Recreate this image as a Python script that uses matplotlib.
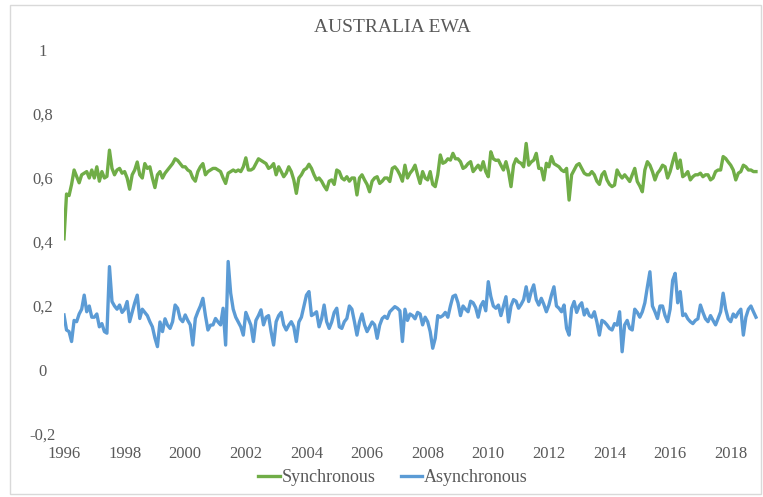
#!/usr/bin/env python3
"""Synchronous vs asynchronous correlation, Australia EWA."""

import numpy as np
import matplotlib

matplotlib.use("Agg")
import matplotlib.pyplot as plt
from matplotlib.patches import Rectangle
from matplotlib.ticker import FuncFormatter

TITLE = "AUSTRALIA EWA"
START_YEAR = 1996
X_TICKS = list(range(1996, 2019, 2))
Y_TICKS = [-0.2, 0, 0.2, 0.4, 0.6, 0.8, 1]

# monthly readings, Jan 1996 .. Nov 2018
SYNCHRONOUS = [
    0.41, 0.55, 0.545, 0.58, 0.625, 0.605, 0.585, 0.61, 0.615, 0.62, 0.60, 0.625,      # 1996
    0.60, 0.635, 0.59, 0.62, 0.60, 0.605, 0.687, 0.63, 0.61, 0.625, 0.63, 0.615,       # 1997
    0.62, 0.60, 0.565, 0.61, 0.625, 0.65, 0.61, 0.60, 0.645, 0.63, 0.635, 0.60,        # 1998
    0.57, 0.61, 0.62, 0.60, 0.615, 0.625, 0.635, 0.645, 0.66, 0.655, 0.645, 0.635,     # 1999
    0.635, 0.625, 0.62, 0.60, 0.59, 0.62, 0.635, 0.645, 0.61, 0.62, 0.625, 0.63,       # 2000
    0.63, 0.625, 0.62, 0.60, 0.583, 0.615, 0.62, 0.625, 0.62, 0.625, 0.62, 0.635,      # 2001
    0.663, 0.625, 0.625, 0.63, 0.645, 0.66, 0.655, 0.65, 0.645, 0.63, 0.635, 0.645,    # 2002
    0.61, 0.635, 0.62, 0.604, 0.615, 0.635, 0.62, 0.594, 0.552, 0.60, 0.61, 0.625,     # 2003
    0.63, 0.643, 0.63, 0.61, 0.594, 0.60, 0.59, 0.575, 0.563, 0.59, 0.594, 0.58,       # 2004
    0.625, 0.62, 0.60, 0.594, 0.604, 0.59, 0.60, 0.60, 0.547, 0.60, 0.61, 0.594,       # 2005
    0.58, 0.557, 0.59, 0.60, 0.604, 0.583, 0.59, 0.60, 0.60, 0.589, 0.63, 0.635,       # 2006
    0.625, 0.61, 0.59, 0.64, 0.60, 0.615, 0.625, 0.64, 0.61, 0.583, 0.62, 0.60,        # 2007
    0.594, 0.62, 0.58, 0.573, 0.61, 0.672, 0.646, 0.65, 0.66, 0.656, 0.677, 0.66,      # 2008
    0.66, 0.651, 0.63, 0.635, 0.645, 0.651, 0.62, 0.63, 0.64, 0.625, 0.651, 0.62,      # 2009
    0.604, 0.682, 0.66, 0.655, 0.656, 0.64, 0.625, 0.651, 0.62, 0.573, 0.64, 0.66,     # 2010
    0.65, 0.646, 0.635, 0.708, 0.64, 0.65, 0.656, 0.677, 0.63, 0.63, 0.594, 0.646,     # 2011
    0.635, 0.667, 0.645, 0.64, 0.635, 0.625, 0.62, 0.63, 0.531, 0.61, 0.625, 0.64,     # 2012
    0.645, 0.63, 0.615, 0.61, 0.61, 0.62, 0.61, 0.59, 0.58, 0.61, 0.62, 0.594,         # 2013
    0.58, 0.573, 0.578, 0.625, 0.61, 0.60, 0.61, 0.60, 0.589, 0.61, 0.63, 0.589,       # 2014
    0.575, 0.557, 0.625, 0.651, 0.64, 0.62, 0.594, 0.615, 0.625, 0.64, 0.635, 0.60,    # 2015
    0.62, 0.65, 0.677, 0.63, 0.656, 0.604, 0.61, 0.62, 0.594, 0.604, 0.61, 0.61,       # 2016
    0.615, 0.604, 0.61, 0.61, 0.594, 0.60, 0.62, 0.625, 0.625, 0.667, 0.661, 0.65,     # 2017
    0.64, 0.625, 0.594, 0.615, 0.62, 0.64, 0.635, 0.625, 0.625, 0.62, 0.62,            # 2018
]

ASYNCHRONOUS = [
    0.172, 0.125, 0.12, 0.089, 0.155, 0.151, 0.175, 0.19, 0.234, 0.182, 0.20, 0.165,   # 1996
    0.165, 0.175, 0.135, 0.145, 0.12, 0.115, 0.323, 0.214, 0.20, 0.19, 0.203, 0.18,     # 1997
    0.19, 0.214, 0.151, 0.18, 0.21, 0.234, 0.161, 0.19, 0.18, 0.17, 0.151, 0.135,       # 1998
    0.10, 0.073, 0.15, 0.12, 0.16, 0.14, 0.13, 0.151, 0.203, 0.193, 0.16, 0.151,        # 1999
    0.172, 0.155, 0.141, 0.078, 0.161, 0.182, 0.20, 0.224, 0.17, 0.125, 0.14, 0.141,    # 2000
    0.161, 0.15, 0.141, 0.193, 0.078, 0.339, 0.24, 0.19, 0.165, 0.15, 0.135, 0.109,     # 2001
    0.18, 0.16, 0.14, 0.089, 0.155, 0.17, 0.188, 0.141, 0.165, 0.17, 0.12, 0.078,       # 2002
    0.151, 0.17, 0.18, 0.141, 0.125, 0.14, 0.151, 0.135, 0.089, 0.15, 0.165, 0.20,      # 2003
    0.234, 0.245, 0.17, 0.175, 0.182, 0.135, 0.16, 0.203, 0.151, 0.13, 0.15, 0.18,      # 2004
    0.193, 0.135, 0.13, 0.151, 0.161, 0.20, 0.19, 0.151, 0.109, 0.15, 0.175, 0.141,     # 2005
    0.12, 0.135, 0.15, 0.141, 0.099, 0.14, 0.161, 0.168, 0.161, 0.182, 0.19, 0.198,     # 2006
    0.193, 0.185, 0.089, 0.19, 0.155, 0.175, 0.17, 0.16, 0.18, 0.175, 0.141, 0.165,     # 2007
    0.151, 0.12, 0.068, 0.099, 0.17, 0.165, 0.17, 0.18, 0.165, 0.20, 0.23, 0.234,       # 2008
    0.21, 0.17, 0.20, 0.19, 0.182, 0.215, 0.21, 0.195, 0.165, 0.20, 0.214, 0.185,       # 2009
    0.276, 0.23, 0.20, 0.193, 0.203, 0.17, 0.20, 0.229, 0.15, 0.20, 0.22, 0.215,        # 2010
    0.193, 0.205, 0.22, 0.26, 0.214, 0.245, 0.266, 0.22, 0.203, 0.224, 0.205, 0.182,    # 2011
    0.203, 0.234, 0.26, 0.20, 0.193, 0.182, 0.203, 0.13, 0.109, 0.193, 0.214, 0.18,     # 2012
    0.20, 0.21, 0.172, 0.19, 0.17, 0.165, 0.182, 0.15, 0.109, 0.155, 0.15, 0.141,       # 2013
    0.13, 0.125, 0.145, 0.14, 0.182, 0.057, 0.141, 0.155, 0.13, 0.125, 0.19, 0.18,      # 2014
    0.165, 0.182, 0.21, 0.26, 0.307, 0.20, 0.182, 0.161, 0.20, 0.20, 0.17, 0.151,       # 2015
    0.19, 0.28, 0.302, 0.21, 0.245, 0.17, 0.175, 0.16, 0.151, 0.145, 0.155, 0.16,       # 2016
    0.203, 0.18, 0.16, 0.151, 0.17, 0.155, 0.141, 0.161, 0.182, 0.24, 0.19, 0.16,       # 2017
    0.151, 0.175, 0.165, 0.18, 0.19, 0.109, 0.165, 0.19, 0.20, 0.182, 0.165,           # 2018
]

GREEN = "#70AD47"
BLUE = "#5B9BD5"
TEXT = "#595959"

plt.rcParams["font.family"] = ["Liberation Serif", "DejaVu Serif"]


def comma_fmt(v, _pos):
    if abs(v) < 1e-9:
        return "0"
    return f"{v:g}".replace(".", ",")


def main() -> None:
    months = np.arange(len(SYNCHRONOUS))
    t = START_YEAR + months / 12.0

    fig = plt.figure(figsize=(7.63, 4.97), dpi=100)
    ax = fig.add_axes([64 / 763, 63 / 497, 694 / 763, 384 / 497])

    ax.plot(t, SYNCHRONOUS, color=GREEN, lw=2.4, label="Synchronous")
    ax.plot(t, ASYNCHRONOUS, color=BLUE, lw=2.4, label="Asynchronous")

    ax.set_xlim(1996, 2018.9)
    ax.set_ylim(-0.2, 1)
    ax.set_xticks(X_TICKS)
    ax.set_xticklabels([str(y) for y in X_TICKS])
    ax.set_yticks(Y_TICKS)
    ax.yaxis.set_major_formatter(FuncFormatter(comma_fmt))

    for side in ax.spines.values():
        side.set_visible(False)
    ax.tick_params(axis="both", length=0, labelsize=12, colors=TEXT)
    ax.tick_params(axis="y", pad=15.5)
    ax.tick_params(axis="x", pad=9)
    for lbl in ax.get_yticklabels():
        lbl.set_horizontalalignment("center")

    fig.text(392 / 763, 1 - 27 / 497, TITLE, ha="center", va="center",
             fontsize=14, color=TEXT)

    fig.legend(loc="center", bbox_to_anchor=(393 / 763, 1 - 478 / 497),
               ncol=2, frameon=False, fontsize=13, handlelength=1.2,
               handletextpad=0.1, columnspacing=1.4, labelcolor=TEXT)

    fig.patches.append(Rectangle((10 / 763, 3 / 497), 751 / 763, 489 / 497,
                                 transform=fig.transFigure, fill=False,
                                 edgecolor="#d9d9d9", lw=1.0))

    fig.savefig("out.png", dpi=100)
    plt.close(fig)


if __name__ == "__main__":
    main()
